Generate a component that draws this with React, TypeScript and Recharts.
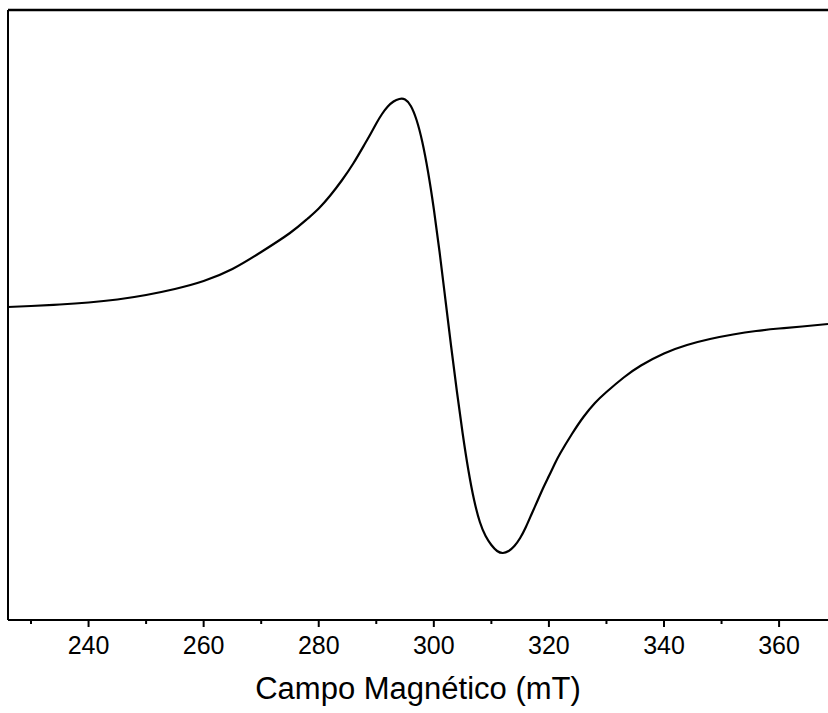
import { Line, LineChart, ReferenceLine, XAxis, YAxis } from "recharts";

// magnetic field (mT) and EPR signal (arb. units)
const field = [
  226, 230, 235, 240, 245, 250, 255, 260, 265, 270, 275, 278, 280, 282, 284, 286,
  288, 289, 290, 291, 292, 293, 294, 295, 296, 297, 298, 299, 300, 301, 302, 303,
  304, 305, 306, 307, 308, 309, 310, 311, 312, 313, 314, 315, 316, 317, 318, 319,
  320, 321, 322, 324, 326, 328, 330, 333, 336, 340, 344, 348, 352, 356, 360, 364, 368.5,
];
const signal = [
  8, 9, 10.5, 12.5, 15.5, 20, 26, 34, 46, 63, 82, 96, 106.5, 119.5, 134.5, 151.5,
  171, 181, 191.5, 201, 208.5, 213.5, 216, 215.5, 209, 195, 173, 143, 106, 63, 16, -31,
  -76, -118, -155, -185, -207, -221, -230, -236, -238, -236, -231, -223, -212, -199, -186, -173,
  -161, -149, -138, -119, -102, -88, -77, -62.5, -50.5, -38.5, -30, -24, -19.5, -16, -13.5, -11.5, -9,
];
const xTicks = [230, 240, 250, 260, 270, 280, 290, 300, 310, 320, 330, 340, 350, 360];
const majorTicks = [240, 260, 280, 300, 320, 340, 360];

const data = field.map((f, i) => ({ field: f, signal: signal[i] }));

const font = "'Liberation Sans', Arial, sans-serif";

function FieldTick(props: any) {
  const { x, y, payload } = props;
  const major = majorTicks.includes(payload.value);
  return (
    <g>
      <line x1={x} x2={x} y1={y} y2={y + (major ? 7 : 4)} stroke="#000" strokeWidth={2} />
      {major && (
        <text x={x} y={y + 34} textAnchor="middle" fontSize={25} fontFamily={font} fill="#000">
          {payload.value}
        </text>
      )}
    </g>
  );
}

export default function App() {
  return (
    <div style={{ position: "absolute", left: 0, top: 0, background: "#fff" }}>
      <LineChart
        width={828}
        height={713}
        data={data}
        margin={{ top: 10, right: 0, bottom: 0, left: 8 }}
      >
        <XAxis
          dataKey="field"
          type="number"
          domain={[226, 368.5]}
          allowDataOverflow
          ticks={xTicks}
          interval={0}
          tick={<FieldTick />}
          tickLine={false}
          tickSize={0}
          tickMargin={0}
          height={93}
          axisLine={{ stroke: "#000", strokeWidth: 2 }}
          label={{
            value: "Campo Magnético (mT)",
            position: "insideBottom",
            offset: 14,
            fontSize: 31,
            fontFamily: font,
            fill: "#000",
          }}
        />
        <YAxis type="number" domain={[-305, 305]} hide />
        <ReferenceLine x={226} stroke="#000" strokeWidth={2} />
        <ReferenceLine y={305} stroke="#000" strokeWidth={2.5} />
        <Line
          dataKey="signal"
          type="natural"
          stroke="#000"
          strokeWidth={2.2}
          dot={false}
          isAnimationActive={false}
        />
      </LineChart>
    </div>
  );
}
